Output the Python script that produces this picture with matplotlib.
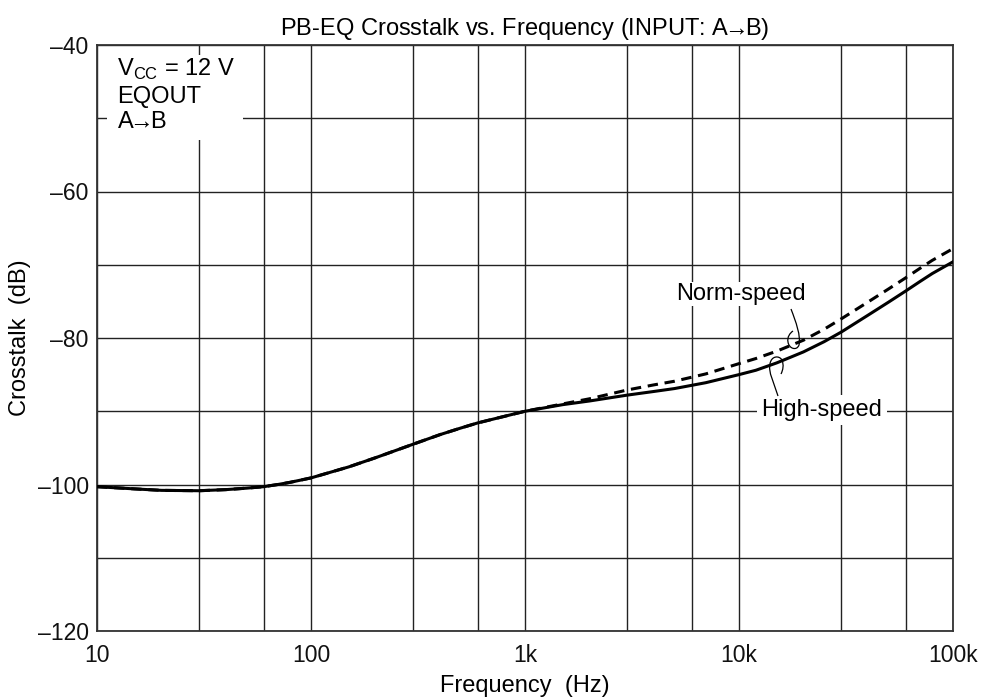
import matplotlib
matplotlib.use("Agg")
import matplotlib.pyplot as plt
from matplotlib.path import Path
from matplotlib.patches import PathPatch, Rectangle
from matplotlib.ticker import FixedLocator, FixedFormatter, NullFormatter

plt.rcParams['font.family'] = ['Liberation Sans', 'DejaVu Sans']
plt.rcParams['mathtext.fontset'] = 'custom'
plt.rcParams['mathtext.rm'] = 'Liberation Sans'

# ---- data ----
freq = [10, 15, 20, 30, 40, 50, 60, 70, 80, 100, 150, 200, 300, 400, 500, 600, 800,
        1000, 1500, 2000, 3000, 4000, 5000, 7000, 10000, 12000, 15000, 17500, 20000,
        25000, 30000, 40000, 50000, 60000, 70000, 80000, 100000]
high_speed = [-100.3, -100.6, -100.8, -100.85, -100.7, -100.5, -100.3, -100.0, -99.7,
              -99.1, -97.6, -96.35, -94.5, -93.2, -92.3, -91.6, -90.7,
              -90.0, -89.1, -88.6, -87.8, -87.3, -86.9, -86.1, -85.0, -84.4, -83.4,
              -82.6, -81.9, -80.5, -79.2, -76.9, -75.1, -73.6, -72.3, -71.2, -69.6]
norm_speed = [-100.3, -100.6, -100.8, -100.85, -100.7, -100.5, -100.3, -100.0, -99.7,
              -99.1, -97.6, -96.35, -94.5, -93.2, -92.3, -91.6, -90.7,
              -90.0, -89.0, -88.3, -87.1, -86.4, -85.9, -84.9, -83.5, -82.8, -81.8,
              -81.0, -80.3, -78.8, -77.4, -75.1, -73.3, -71.8, -70.5, -69.4, -67.8]
xtick_vals = [10, 100, 1000, 10000, 100000]
xtick_labels = ['10', '100', '1k', '10k', '100k']
xgrid_vals = [10, 30, 60, 100, 300, 600, 1000, 3000, 6000, 10000, 30000, 60000, 100000]
ytick_vals = [-120, -100, -80, -60, -40]
ytick_labels = ['\u2013120', '\u2013100', '\u201380', '\u201360', '\u201340']
ygrid_vals = [-120, -110, -100, -90, -80, -70, -60, -50, -40]

FS = 16.5
ARROW = '$\\!\\!\\rightarrow\\!\\!$'
W, H = 988, 700
fig = plt.figure(figsize=(W / 100, H / 100), dpi=100)
L, R, T, B = 97, 953, 45, 631
ax = fig.add_axes([L / W, 1 - B / H, (R - L) / W, (B - T) / H])

def px(x, y):
    return ((x - L) / (R - L), (B - y) / (B - T))

ax.set_xscale('log')
ax.set_xlim(10, 100000)
ax.set_ylim(-120, -40)

for xv in xgrid_vals:
    ax.axvline(xv, color='#222222', lw=1.0, zorder=1)
for yv in ygrid_vals:
    ax.axhline(yv, color='#222222', lw=1.0, zorder=1)

ax.xaxis.set_major_locator(FixedLocator(xtick_vals))
ax.xaxis.set_major_formatter(FixedFormatter(xtick_labels))
ax.xaxis.set_minor_formatter(NullFormatter())
ax.xaxis.set_minor_locator(FixedLocator([]))
ax.yaxis.set_major_locator(FixedLocator(ytick_vals))
ax.yaxis.set_major_formatter(FixedFormatter(ytick_labels))
ax.tick_params(axis='both', length=0, labelsize=FS, colors='#111111')
ax.tick_params(axis='x', pad=9)
ax.tick_params(axis='y', pad=6)
for s in ax.spines.values():
    s.set_color('#333333')
    s.set_linewidth(1.3)

ax.plot(freq, norm_speed, color='black', lw=2.2, ls=(0, (3.4, 2.2)), zorder=3)
ax.plot(freq, high_speed, color='black', lw=2.2, zorder=4)

ax.set_title('PB-EQ Crosstalk vs. Frequency (INPUT: A' + ARROW + 'B)', fontsize=FS + 0.5, pad=7)
ax.set_xlabel('Frequency  (Hz)', fontsize=FS + 0.5, labelpad=6)
ax.set_ylabel('Crosstalk  (dB)', fontsize=FS + 0.5, labelpad=5)

# condition box
x0, y0 = px(107, 140)
x1, y1 = px(243, 55)
ax.add_patch(Rectangle((x0, y0), x1 - x0, y1 - y0, transform=ax.transAxes,
                       facecolor='white', edgecolor='none', zorder=2))
tx, ty = px(117, 57)
ax.text(tx, ty, 'V$_\\mathregular{CC}$ = 12 V\nEQOUT\nA' + ARROW + 'B', transform=ax.transAxes,
        fontsize=FS + 0.5, va='top', ha='left', linespacing=1.2, zorder=5)

# series labels
nx, ny = px(741, 294)
ax.text(nx, ny, 'Norm-speed', transform=ax.transAxes, fontsize=FS + 0.5, ha='center',
        va='center', zorder=5,
        bbox=dict(facecolor='white', edgecolor='none', pad=1.0))
hx, hy = px(822, 410)
ax.text(hx, hy, 'High-speed', transform=ax.transAxes, fontsize=FS + 0.5, ha='center',
        va='center', zorder=5,
        bbox=dict(facecolor='white', edgecolor='none', pad=3.0))

def leader(points):
    verts = [px(*p) for p in points]
    codes = [Path.MOVETO] + [Path.CURVE4] * (len(verts) - 1)
    ax.add_patch(PathPatch(Path(verts, codes), transform=ax.transAxes,
                           facecolor='none', edgecolor='black', lw=0.9, zorder=6))

leader([(791, 309), (796, 322), (801, 336), (799, 345),
        (797, 351), (789, 349), (788, 342),
        (787, 337), (790, 333), (793, 331)])
leader([(778, 396), (774, 383), (768, 372), (770, 364),
        (771, 356), (779, 355), (782, 360),
        (784, 365), (783, 370), (781, 374)])

fig.savefig('out.png', dpi=100)
